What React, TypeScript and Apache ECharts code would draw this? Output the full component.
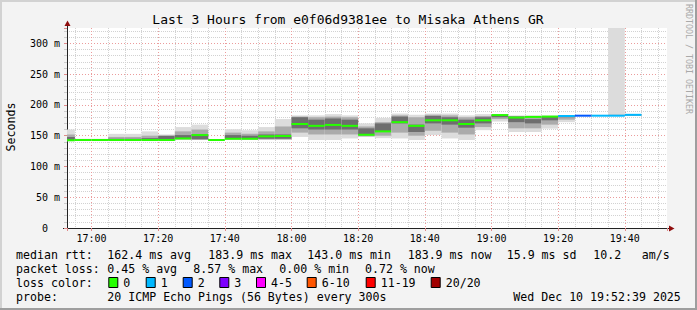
import React, { useEffect, useRef } from "react";
import * as echarts from "echarts";

// ---- data (5-minute bins, start time of each bin) ----
const binTimes = [
  "16:50", "16:55", "17:00", "17:05", "17:10", "17:15", "17:20", "17:25", "17:30", "17:35",
  "17:40", "17:45", "17:50", "17:55", "18:00", "18:05", "18:10", "18:15", "18:20", "18:25",
  "18:30", "18:35", "18:40", "18:45", "18:50", "18:55", "19:00", "19:05", "19:10", "19:15",
  "19:20", "19:25", "19:30", "19:35", "19:40",
];
const medianRtt = [
  142.7, 143, 143, 143, 143, 143, 143, 145.5, 151, 143,
  145, 145, 149, 149.5, 169, 166, 167.5, 166, 151.5, 157,
  172, 166, 175, 175, 169, 175, 183.5, 179.5, 180.5, 181,
  182, 182.5, 182.5, 182.5, 183.9,
];
const smokeMin = [
  141, 142, 142, 142, 142, 142, 142, 143, 143, 142.5,
  143, 143, 143, 143, 148, 143, 143, 145.5, 148, 146,
  145.5, 143, 151, 145.5, 143, 159, 173, 156, 156, 161.5,
  172, 182, 182, 182, 183,
];
const smokeMax = [
  160, 145, 145, 153, 153, 157, 152, 164, 168, 144.5,
  160.5, 159, 164, 177, 183, 183, 185, 183, 170, 179,
  186, 184, 186, 186, 183, 185, 184.5, 183, 183, 183,
  183, 183, 183, 340, 184.5,
];
const smokeInnerLo = [
  142, 142.5, 142.5, 142.5, 142.5, 142.5, 142.5, 144, 144, 142.8,
  144, 144, 144, 144, 155, 152, 152, 152, 149, 150,
  155, 150, 158, 155, 152, 164, 177, 162, 162, 168,
  176, 182, 182, 182, 183,
];
const smokeInnerHi = [
  152, 144, 144, 148, 148, 150, 148, 157, 160, 144.2,
  155, 153, 157, 165, 181, 180, 181, 180, 165, 172,
  183, 180, 184, 183, 180, 182, 184.3, 182, 182, 182,
  183, 183, 183, 184, 184.5,
];
const smokeCoreLo = [
  142, 143, 143, 143, 143, 143, 143, 145, 144, 143,
  146, 146, 145, 145, 162, 160, 160, 160, 151, 157,
  170, 156, 170, 168, 163, 170, 180, 172, 170, 175,
  180, 182, 182, 182, 183,
];
const smokeCoreHi = [
  148, 143.5, 143.5, 145, 145, 146, 150, 151, 152, 143.5,
  151, 150, 152, 152, 180, 176, 178, 176, 162, 170,
  181, 168, 182, 180, 176, 180, 184, 181, 177, 181,
  182.5, 183, 183, 183, 184,
];
// loss bucket index per bin (0 = 0 lost, 1 = 1 lost, 2 = 2 lost ...)
const lossBucket = [
  0, 0, 0, 0, 0, 0, 0, 0, 0, 0,
  0, 0, 0, 0, 0, 0, 0, 0, 0, 0,
  0, 0, 0, 0, 0, 0, 0, 0, 0, 0,
  1, 2, 1, 1, 1,
];
const lossLabels = ["0", "1", "2", "3", "4-5", "6-10", "11-19", "20/20"];
const lossColors = ["#26ff00", "#00b8ff", "#0059ff", "#7e00ff", "#ff00ff", "#ff5500", "#ff0000", "#a10000"];

const rttStats = ["162.4 ms avg", "183.9 ms max", "143.0 ms min", "183.9 ms now", "15.9 ms sd", "10.2", "am/s"];
const lossStats = ["0.45 % avg", "8.57 % max", "0.00 % min", "0.72 % now"];
const probeText = "20 ICMP Echo Pings (56 Bytes) every 300s";
const stampText = "Wed Dec 10 19:52:39 2025";
const titleText = "Last 3 Hours from e0f06d9381ee to Misaka Athens GR";

const MONO = '"DejaVu Sans Mono", monospace';
const BIN_MIN = 5;
const X_MIN = 16 * 60 + 52 + 39 / 60;
const X_MAX = X_MIN + 180;

function toMin(t: string): number {
  const [h, m] = t.split(":").map(Number);
  return h * 60 + m;
}
function fmtTime(v: number): string {
  const r = Math.round(v);
  if (Math.abs(v - r) > 1e-6 || r % 20 !== 0) return "";
  const h = Math.floor(r / 60);
  const m = r % 60;
  return `${h}:${m < 10 ? "0" + m : m}`;
}

function txt(x: number, y: number, text: string, size: number, opts: any = {}) {
  const align = opts.align || "left";
  return {
    type: "text",
    x,
    y,
    rotation: opts.rotation || 0,
    silent: true,
    style: {
      text,
      font: `${size}px ${MONO}`,
      fill: opts.fill || "#000",
      align,
      textAlign: align,
      verticalAlign: "middle",
      textVerticalAlign: "middle",
    },
  };
}

export default function App() {
  const ref = useRef<HTMLDivElement>(null);

  useEffect(() => {
    if (!ref.current) return;
    const chart = echarts.init(ref.current, undefined, { renderer: "svg" });

    const data = binTimes.map((t, i) => {
      const s = toMin(t);
      return [
        s, s + BIN_MIN,
        smokeMin[i], smokeMax[i],
        smokeInnerLo[i], smokeInnerHi[i],
        smokeCoreLo[i], smokeCoreHi[i],
        medianRtt[i], lossBucket[i],
      ];
    });

    const graphic: any[] = [];
    // frame
    graphic.push({ type: "rect", shape: { x: 0, y: 0, width: 697, height: 2 }, style: { fill: "#d2d2d2" }, silent: true });
    graphic.push({ type: "rect", shape: { x: 0, y: 0, width: 2, height: 310 }, style: { fill: "#d2d2d2" }, silent: true });
    graphic.push({ type: "rect", shape: { x: 0, y: 308, width: 697, height: 2 }, style: { fill: "#9e9e9e" }, silent: true });
    graphic.push({ type: "rect", shape: { x: 695, y: 0, width: 2, height: 310 }, style: { fill: "#9e9e9e" }, silent: true });
    // axis extensions and arrows
    graphic.push({ type: "line", shape: { x1: 67.5, y1: 24, x2: 67.5, y2: 28 }, style: { stroke: "#222", lineWidth: 1 }, silent: true });
    graphic.push({ type: "line", shape: { x1: 63, y1: 228.5, x2: 670, y2: 228.5 }, style: { stroke: "#222", lineWidth: 1 }, silent: true });
    graphic.push({ type: "polygon", shape: { points: [[64.5, 26], [70.5, 26], [67.5, 20.5]] }, style: { fill: "#8f0d0d" }, silent: true });
    graphic.push({ type: "polygon", shape: { points: [[669, 225.5], [669, 231.5], [674.5, 228.5]] }, style: { fill: "#8f0d0d" }, silent: true });

    // title, axis title, watermark
    graphic.push(txt(348, 19.5, titleText, 13, { align: "center" }));
    graphic.push(txt(11, 127, "Seconds", 11.6, { align: "center", rotation: Math.PI / 2 }));
    graphic.push(txt(689, 59, "RRDTOOL / TOBI OETIKER", 8.3, { align: "center", rotation: -Math.PI / 2, fill: "#a9a9a9" }));

    // legend rows
    const row1 = 254.5, row2 = 268.5, row3 = 282.5, row4 = 296.5;
    const rttX = [107.3, 208.3, 307.3, 407.7, 506.7, 593.3, 641.7];
    graphic.push(txt(16, row1, "median rtt:", 11.6));
    rttStats.forEach((s, i) => graphic.push(txt(rttX[i], row1, s, 11.6)));
    const lossX = [107.3, 193.3, 279.3, 365];
    graphic.push(txt(16, row2, "packet loss:", 11.6));
    lossStats.forEach((s, i) => graphic.push(txt(lossX[i], row2, s, 11.6)));
    graphic.push(txt(16, row3, "loss color:", 11.6));
    const boxX = [108.3, 145.7, 182.7, 219.3, 256, 306.7, 365.7, 430.7];
    lossLabels.forEach((l, i) => {
      graphic.push({
        type: "rect",
        shape: { x: boxX[i] + 0.5, y: 277.5, width: 9, height: 10 },
        style: { fill: lossColors[i], stroke: "#000", lineWidth: 1 },
        silent: true,
      });
      graphic.push(txt(boxX[i] + 15, row3, l, 11.6));
    });
    graphic.push(txt(16, row4, "probe:", 11.6));
    graphic.push(txt(107.3, row4, probeText, 11.6));
    graphic.push(txt(513.3, row4, stampText, 11.6));

    const option: any = {
      animation: false,
      backgroundColor: "#f3f3f3",
      grid: {
        left: 67, top: 28, width: 600, height: 200,
        show: true, backgroundColor: "#ffffff", borderWidth: 0,
        containLabel: false, outerBoundsMode: "none",
      },
      xAxis: {
        type: "value", min: X_MIN, max: X_MAX, splitNumber: 9,
        axisLine: { show: true, onZero: false, lineStyle: { color: "#222", width: 1 } },
        axisTick: { show: true, length: 3, lineStyle: { color: "#e08a8a" } },
        minorTick: { show: false, splitNumber: 4 },
        axisLabel: { show: true, margin: 5, fontSize: 10, fontFamily: MONO, color: "#000", formatter: fmtTime },
        splitLine: { show: true, showMinLine: false, showMaxLine: false, lineStyle: { color: "#eb9c9c", type: [1, 2], width: 1 } },
        minorSplitLine: { show: true, lineStyle: { color: "#d2d2d2", type: [1, 1], width: 1 } },
      },
      yAxis: {
        type: "value", min: 0, max: 325, interval: 50,
        axisLine: { show: true, lineStyle: { color: "#222", width: 1 } },
        axisTick: { show: true, length: 3, lineStyle: { color: "#e08a8a" } },
        minorTick: { show: true, splitNumber: 5, length: 3, lineStyle: { color: "#cccccc" } },
        axisLabel: {
          show: true, margin: 7, fontSize: 10, fontFamily: MONO, color: "#000",
          formatter: (v: number) => (v === 0 ? "0\u00a0\u00a0" : v % 50 === 0 ? `${v} m` : ""),
        },
        splitLine: { show: true, showMinLine: false, showMaxLine: false, lineStyle: { color: "#eb9c9c", type: [1, 2], width: 1 } },
        minorSplitLine: { show: true, lineStyle: { color: "#d2d2d2", type: [1, 1], width: 1 } },
      },
      series: [
        {
          type: "custom",
          clip: true,
          encode: { x: [0, 1], y: [2, 3] },
          data,
          renderItem: (_params: any, api: any) => {
            const s = api.value(0), e = api.value(1);
            const band = (lo: number, hi: number, color: string) => {
              const p0 = api.coord([s, hi]);
              const p1 = api.coord([e, lo]);
              return {
                type: "rect",
                shape: { x: p0[0], y: p0[1], width: p1[0] - p0[0], height: Math.max(p1[1] - p0[1], 0.5) },
                style: { fill: color },
              };
            };
            const med = api.value(8);
            const loss = api.value(9);
            const m0 = api.coord([s, med]);
            const m1 = api.coord([e, med]);
            return {
              type: "group",
              children: [
                band(api.value(2), api.value(3), "#dcdcdc"),
                band(api.value(4), api.value(5), "#ababab"),
                band(api.value(6), api.value(7), "#6e6e6e"),
                {
                  type: "rect",
                  shape: { x: m0[0], y: m0[1] - 1, width: m1[0] - m0[0], height: 2 },
                  style: { fill: lossColors[loss] },
                },
              ],
            };
          },
        },
      ],
      graphic,
    };

    chart.setOption(option);
    return () => chart.dispose();
  }, []);

  return (
    <div
      ref={ref}
      style={{ position: "fixed", left: 0, top: 0, width: 697, height: 310 }}
    />
  );
}
